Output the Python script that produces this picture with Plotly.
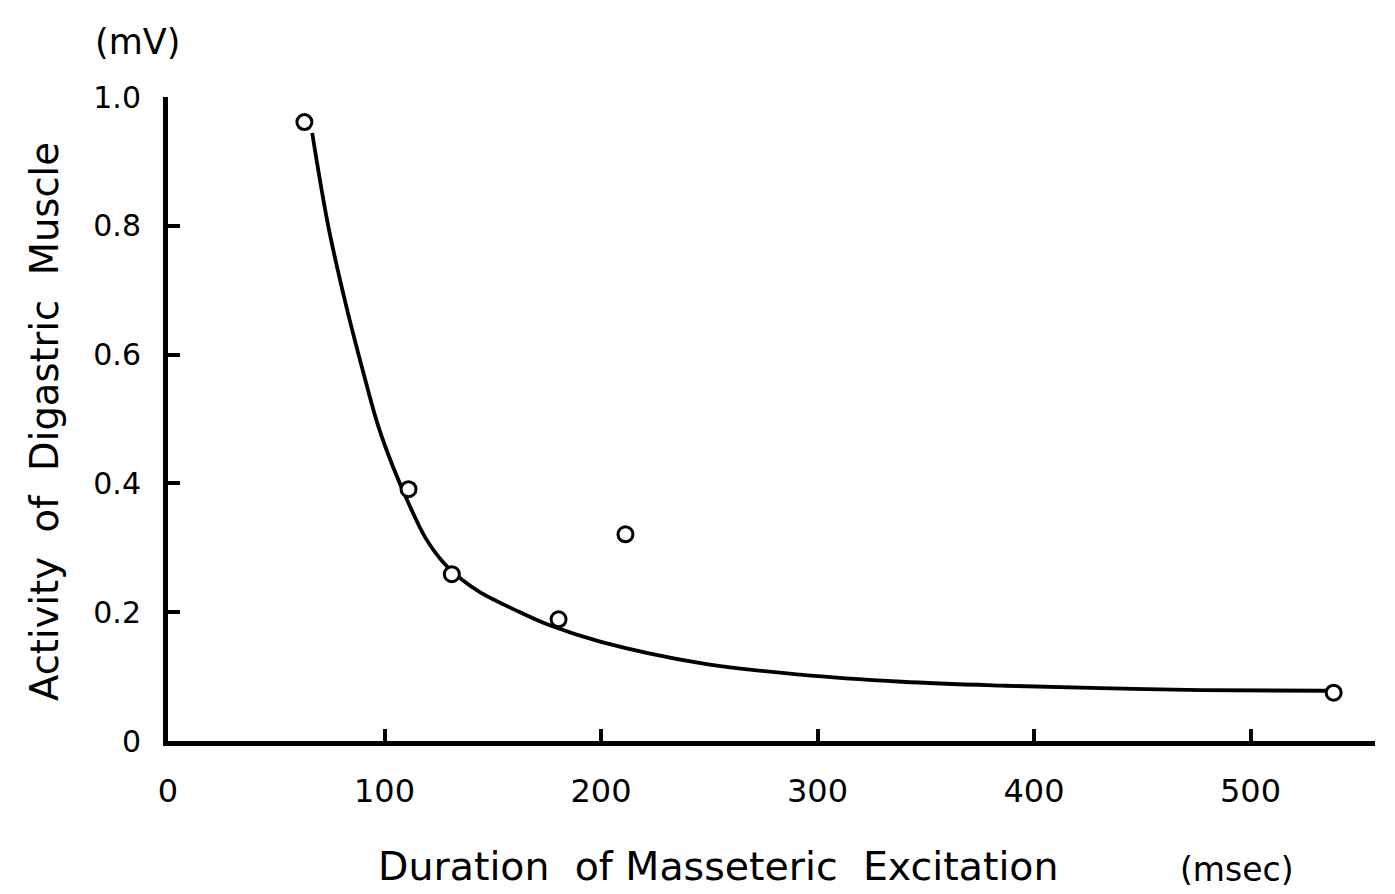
import plotly.graph_objects as go

# Measured points
pt_x = [63.0, 111.1, 131.1, 180.4, 211.3, 538.4]
pt_y = [0.961, 0.391, 0.259, 0.189, 0.321, 0.075]

# Hand-drawn fitted curve
curve_x = [66.6, 74.0, 82.0, 90.0, 97.0, 104.0, 111.0, 119.0, 127.5, 136.0, 144.6,
           160.0, 176.0, 200.0, 246.0, 292.0, 339.0, 385.0, 431.0, 477.0, 535.0]
curve_y = [0.944, 0.800, 0.680, 0.575, 0.490, 0.425, 0.370, 0.315, 0.276, 0.250, 0.230,
           0.204, 0.180, 0.154, 0.121, 0.103, 0.092, 0.086, 0.082, 0.079, 0.078]

x_ticks = [0, 100, 200, 300, 400, 500]
x_tick_labels = ["0", "100", "200", "300", "400", "500"]
y_ticks = [0, 0.2, 0.4, 0.6, 0.8, 1.0]
y_tick_labels = ["0", "0.2", "0.4", "0.6", "0.8", "1.0"]

W, H = 1395, 894
L, R, T, B = 168, 20, 97, 153
PW, PH = W - L - R, H - T - B


def px(xp):
    return (xp - L) / PW


def py(yp):
    return (H - B - yp) / PH


FONT = "DejaVu Sans"

fig = go.Figure()
fig.add_trace(go.Scatter(
    x=curve_x, y=curve_y, mode="lines",
    line=dict(color="black", width=3.8, shape="spline", smoothing=1.0),
    hoverinfo="skip", showlegend=False,
))
fig.add_trace(go.Scatter(
    x=pt_x, y=pt_y, mode="markers",
    marker=dict(symbol="circle", size=15, color="white",
                line=dict(color="black", width=3)),
    showlegend=False,
))

axis_common = dict(
    showgrid=False, zeroline=False, showline=True, linecolor="black", linewidth=5,
    ticks="inside", ticklen=12, tickwidth=4, tickcolor="black",
)

fig.update_xaxes(
    range=[0, 557.5], tickvals=x_ticks, ticktext=x_tick_labels,
    tickfont=dict(family=FONT, size=32, color="black"),
    ticklabelstandoff=18, **axis_common,
)
fig.update_yaxes(
    range=[0, 1.0], tickvals=y_ticks, ticktext=y_tick_labels,
    tickfont=dict(family=FONT, size=30, color="black"),
    ticklabelstandoff=16, **axis_common,
)

annotations = [
    dict(text="Duration  of Masseteric  Excitation", x=px(718), y=py(866),
         font=dict(family=FONT, size=39.5, color="black")),
    dict(text="(msec)", x=px(1237), y=py(869),
         font=dict(family=FONT, size=33, color="black")),
    dict(text="(mV)", x=px(137), y=py(42),
         font=dict(family=FONT, size=35, color="black")),
    dict(text="Activity  of  Digastric  Muscle", x=px(45), y=py(422), textangle=-90,
         font=dict(family=FONT, size=38.5, color="black")),
]
for a in annotations:
    a.update(xref="paper", yref="paper", showarrow=False,
             xanchor="center", yanchor="middle")

fig.update_layout(
    width=W, height=H,
    margin=dict(l=L, r=R, t=T, b=B, pad=0),
    paper_bgcolor="white", plot_bgcolor="white",
    annotations=annotations,
)

fig.write_html("out.html")
